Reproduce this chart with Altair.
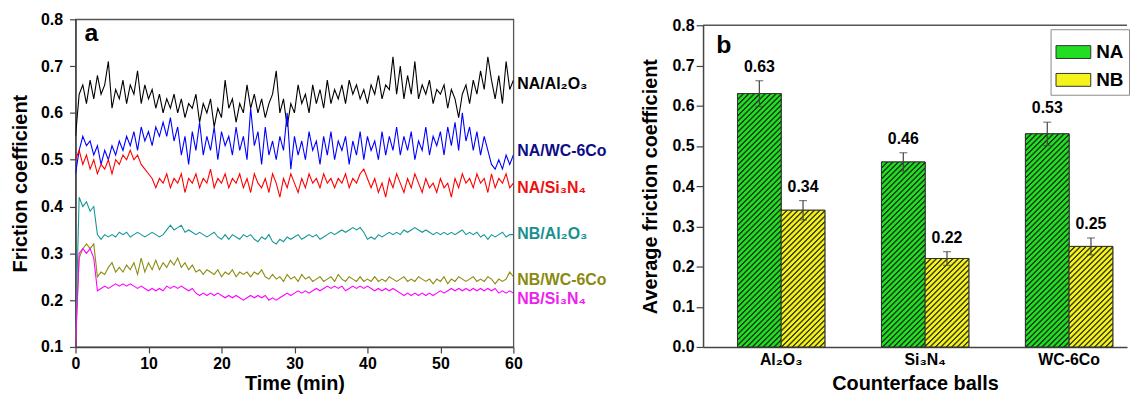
import altair as alt
import pandas as pd

# ---------------- Panel a data (friction coefficient vs time) ----------------
time_min = [i * 0.5 for i in range(121)]

na_al2o3 = [0.55,0.64,0.66,0.62,0.67,0.63,0.68,0.64,0.66,0.71,0.61,0.65,0.63,0.67,0.62,0.66,0.64,0.69,0.62,0.66,
            0.63,0.65,0.61,0.64,0.60,0.63,0.61,0.64,0.60,0.63,0.59,0.62,0.61,0.64,0.58,0.62,0.60,0.63,0.57,0.61,
            0.59,0.67,0.61,0.63,0.58,0.62,0.60,0.66,0.61,0.64,0.60,0.63,0.59,0.62,0.64,0.69,0.60,0.63,0.57,0.62,
            0.60,0.66,0.62,0.64,0.60,0.66,0.62,0.65,0.61,0.67,0.62,0.65,0.63,0.66,0.62,0.67,0.64,0.66,0.63,0.65,
            0.62,0.66,0.64,0.68,0.63,0.66,0.65,0.72,0.64,0.70,0.63,0.68,0.64,0.71,0.63,0.66,0.64,0.67,0.62,0.65,
            0.64,0.66,0.61,0.65,0.63,0.59,0.64,0.66,0.62,0.67,0.64,0.69,0.65,0.72,0.67,0.63,0.68,0.62,0.71,0.65,
            0.67]
na_wc6co = [0.47,0.52,0.55,0.53,0.54,0.51,0.53,0.49,0.52,0.50,0.53,0.51,0.54,0.52,0.55,0.53,0.56,0.52,0.57,0.54,
            0.56,0.53,0.57,0.55,0.58,0.55,0.59,0.54,0.57,0.51,0.55,0.49,0.56,0.52,0.58,0.51,0.55,0.52,0.57,0.50,
            0.56,0.53,0.55,0.51,0.57,0.52,0.55,0.50,0.61,0.53,0.56,0.49,0.57,0.51,0.54,0.50,0.55,0.52,0.60,0.48,
            0.55,0.51,0.54,0.50,0.56,0.52,0.54,0.49,0.55,0.51,0.56,0.50,0.54,0.52,0.55,0.49,0.54,0.51,0.56,0.50,
            0.55,0.52,0.54,0.50,0.56,0.51,0.55,0.52,0.57,0.51,0.55,0.52,0.56,0.50,0.54,0.52,0.57,0.51,0.55,0.53,
            0.56,0.51,0.57,0.53,0.58,0.52,0.60,0.54,0.57,0.52,0.56,0.51,0.55,0.52,0.49,0.48,0.50,0.48,0.51,0.49,
            0.51]
na_si3n4 = [0.50,0.52,0.49,0.51,0.48,0.50,0.47,0.49,0.48,0.50,0.47,0.50,0.49,0.51,0.50,0.52,0.50,0.51,0.49,0.48,
            0.47,0.46,0.44,0.46,0.45,0.47,0.44,0.46,0.45,0.47,0.43,0.46,0.45,0.47,0.44,0.46,0.45,0.48,0.44,0.46,
            0.45,0.47,0.44,0.46,0.45,0.47,0.44,0.46,0.43,0.47,0.45,0.44,0.46,0.43,0.47,0.45,0.42,0.46,0.44,0.47,
            0.45,0.43,0.46,0.44,0.47,0.45,0.46,0.44,0.47,0.45,0.46,0.44,0.46,0.45,0.47,0.44,0.46,0.45,0.47,0.48,
            0.46,0.44,0.46,0.43,0.45,0.42,0.46,0.44,0.47,0.45,0.43,0.46,0.44,0.47,0.45,0.43,0.46,0.44,0.45,0.43,
            0.46,0.44,0.45,0.42,0.46,0.44,0.47,0.45,0.46,0.44,0.47,0.45,0.46,0.43,0.47,0.44,0.46,0.45,0.47,0.44,
            0.45]
nb_al2o3 = [0.12,0.42,0.40,0.41,0.39,0.40,0.34,0.33,0.34,0.335,0.34,0.335,0.345,0.34,0.345,0.335,0.34,0.345,0.34,0.335,
            0.34,0.345,0.34,0.335,0.34,0.35,0.36,0.35,0.355,0.36,0.345,0.35,0.345,0.34,0.345,0.34,0.335,0.34,0.345,0.335,
            0.33,0.34,0.33,0.34,0.335,0.33,0.34,0.335,0.34,0.33,0.325,0.335,0.33,0.34,0.325,0.32,0.33,0.325,0.335,0.33,
            0.335,0.34,0.33,0.335,0.34,0.335,0.34,0.33,0.335,0.34,0.345,0.34,0.345,0.35,0.345,0.35,0.355,0.35,0.355,0.345,
            0.33,0.335,0.33,0.34,0.335,0.34,0.345,0.34,0.345,0.34,0.35,0.345,0.35,0.355,0.35,0.345,0.35,0.345,0.34,0.345,
            0.34,0.345,0.34,0.345,0.34,0.345,0.35,0.34,0.345,0.34,0.345,0.335,0.34,0.33,0.34,0.335,0.34,0.345,0.335,0.34,
            0.34]
nb_wc6co = [0.11,0.29,0.31,0.32,0.31,0.32,0.25,0.26,0.255,0.27,0.28,0.26,0.27,0.26,0.275,0.265,0.28,0.255,0.29,0.26,
            0.28,0.265,0.285,0.265,0.28,0.27,0.285,0.275,0.29,0.27,0.28,0.265,0.275,0.26,0.265,0.255,0.265,0.26,0.255,0.265,
            0.25,0.26,0.255,0.265,0.25,0.26,0.255,0.26,0.25,0.26,0.255,0.265,0.25,0.245,0.255,0.245,0.25,0.24,0.255,0.245,
            0.25,0.24,0.255,0.245,0.25,0.24,0.245,0.25,0.24,0.245,0.25,0.24,0.255,0.245,0.24,0.25,0.245,0.24,0.25,0.24,
            0.245,0.24,0.25,0.24,0.245,0.24,0.25,0.245,0.24,0.245,0.25,0.24,0.245,0.24,0.25,0.245,0.24,0.245,0.235,0.245,
            0.24,0.25,0.235,0.245,0.24,0.25,0.245,0.24,0.245,0.25,0.24,0.245,0.24,0.25,0.245,0.235,0.245,0.24,0.245,0.26,
            0.25]
nb_si3n4 = [0.10,0.30,0.31,0.30,0.31,0.29,0.22,0.225,0.23,0.225,0.23,0.235,0.23,0.235,0.23,0.235,0.23,0.225,0.23,0.225,
            0.22,0.225,0.22,0.225,0.22,0.23,0.225,0.23,0.225,0.23,0.225,0.22,0.225,0.215,0.21,0.215,0.21,0.215,0.21,0.215,
            0.21,0.205,0.21,0.205,0.21,0.205,0.20,0.205,0.21,0.205,0.21,0.205,0.21,0.20,0.205,0.20,0.205,0.21,0.215,0.21,
            0.215,0.22,0.215,0.22,0.215,0.22,0.225,0.22,0.225,0.23,0.225,0.23,0.225,0.23,0.22,0.225,0.23,0.225,0.23,0.225,
            0.23,0.225,0.22,0.225,0.22,0.225,0.22,0.225,0.22,0.215,0.21,0.215,0.21,0.215,0.21,0.215,0.21,0.215,0.21,0.215,
            0.22,0.215,0.22,0.225,0.22,0.225,0.22,0.225,0.22,0.225,0.22,0.225,0.22,0.225,0.22,0.225,0.215,0.22,0.215,0.22,
            0.215]

series_names = ["NA/Al2O3", "NA/WC-6Co", "NA/Si3N4", "NB/Al2O3", "NB/WC-6Co", "NB/Si3N4"]
series_values = [na_al2o3, na_wc6co, na_si3n4, nb_al2o3, nb_wc6co, nb_si3n4]
line_colors = ["#000000", "#0000ff", "#ff0000", "#169696", "#8c8c10", "#ff00ff"]

label_texts = ["NA/Al₂O₃", "NA/WC-6Co", "NA/Si₃N₄", "NB/Al₂O₃", "NB/WC-6Co", "NB/Si₃N₄"]
label_y = [0.661, 0.518, 0.439, 0.342, 0.242, 0.203]
label_colors = ["#000000", "#0c0c86", "#ee1111", "#1a9090", "#8a8a10", "#ee22ee"]

# ---------------- Panel b data (average friction coefficient) ----------------
balls = ["Al₂O₃", "Si₃N₄", "WC-6Co"]
groups = ["NA", "NB"]
na_mean = [0.63, 0.46, 0.53]
nb_mean = [0.34, 0.22, 0.25]
na_err = [0.032, 0.023, 0.029]
nb_err = [0.024, 0.017, 0.021]
bar_light = {"NA": "#22de22", "NB": "#f4f41c"}
bar_dark = {"NA": "#143c14", "NB": "#40400f"}

FONT = "Liberation Sans"

# ---------------- build tables ----------------
rows = []
for name, vals, col in zip(series_names, series_values, line_colors):
    for t, v in zip(time_min, vals):
        rows.append({"series": name, "t": t, "value": v, "color": col})
lines_df = pd.DataFrame(rows)
labels_df = pd.DataFrame({"lab": label_texts, "ly": label_y, "lc": label_colors, "t": [60] * 6})

brows = []
for i, b in enumerate(balls):
    for g, m, e in (("NA", na_mean[i], na_err[i]), ("NB", nb_mean[i], nb_err[i])):
        brows.append({"ball": b, "series": g, "mean": m, "lo": m - e, "hi": m + e, "k": f"{i}{g}"})
bars_df = pd.DataFrame(brows)

# ---------------- panel a ----------------
PA_W, PA_H = 441, 330
ya_ticks = [round(0.1 + 0.05 * i, 2) for i in range(15)]
xa_ticks = [5 * i for i in range(13)]
major_y = "abs(datum.value*10 - round(datum.value*10)) < 0.001"

ya_axis = alt.Axis(values=ya_ticks, labelExpr=f"{major_y} ? format(datum.value, '.1f') : ''",
                   tickSize={"condition": {"test": major_y, "value": 6}, "value": 3},
                   labelPadding=7, titlePadding=10, title="Friction coefficient")
xa_axis = alt.Axis(values=xa_ticks, labelExpr="datum.value % 10 === 0 ? datum.label : ''",
                   tickSize={"condition": {"test": "datum.value % 10 === 0", "value": 6}, "value": 3},
                   labelPadding=3, titlePadding=2, title="Time (min)")

xa = alt.X("t:Q", scale=alt.Scale(domain=[0, 60], nice=False), axis=xa_axis)
ya_scale = alt.Scale(domain=[0.1, 0.8], nice=False)

lines = alt.Chart(lines_df).mark_line(strokeWidth=1.1, clip=True).encode(
    x=xa,
    y=alt.Y("value:Q", scale=ya_scale, axis=ya_axis, title="Friction coefficient"),
    color=alt.Color("color:N", scale=None),
    detail="series:N",
    order=alt.Order("t:Q"),
)
labels = alt.Chart(labels_df).mark_text(align="left", baseline="middle", dx=4, fontSize=16,
                                         fontWeight="bold", font=FONT).encode(
    x=alt.X("t:Q"),
    y=alt.Y("ly:Q", title="Friction coefficient"),
    text="lab:N",
    color=alt.Color("lc:N", scale=None),
)
letter_a = alt.Chart(pd.DataFrame({"txt": ["a"]})).mark_text(
    fontSize=25, fontWeight="bold", font=FONT, align="center", baseline="alphabetic").encode(
    x=alt.value(16), y=alt.value(22), text="txt:N")

panel_a = alt.layer(lines, labels, letter_a).properties(width=PA_W, height=PA_H)

# ---------------- panel b ----------------
PB_W, PB_H = 427, 330
TOP_GAP = 6                      # panel b's 0.8 line sits a little lower than panel a's
PX_PER_UNIT = (PB_H - TOP_GAP) / 0.8
BAR_W = 44.0

yb_ticks = [round(0.05 * i, 2) for i in range(17)]
yb_axis = alt.Axis(values=yb_ticks, labelExpr=f"{major_y} ? format(datum.value, '.1f') : ''",
                   tickSize={"condition": {"test": major_y, "value": 7}, "value": 3},
                   labelPadding=2, titlePadding=12, title="Average friction coefficient")
yb_scale = alt.Scale(domain=[0, 0.8], nice=False, range=[PB_H, TOP_GAP])
xb = alt.X("ball:N", sort=balls,
           scale=alt.Scale(domain=balls, paddingInner=0.393, paddingOuter=0.169, align=0.708),
           axis=alt.Axis(ticks=False, labelAngle=0, labelPadding=5, titlePadding=6, title="Counterface balls"))
xob = alt.XOffset("series:N", sort=groups, scale=alt.Scale(domain=groups, paddingInner=0, paddingOuter=0))


def hatch(light, dark, w, h, period=5.5):
    """Diagonal (///) stripes as a many-stop linear gradient across the bar's box."""
    L = w + h
    s = L / (w * w + h * h)
    pattern = [(dark, 0.0), (dark, 0.18), (light, 0.38), (light, 0.82), (dark, 1.0)]
    stops = []
    k = 0
    while k * period < L:
        for col, f in pattern:
            o = min((k + f) * period / L, 1.0)
            stops.append((col, o))
        k += 1
    return alt.LinearGradient(gradient="linear",
                              stops=[alt.GradientStop(color=cc, offset=round(o, 5)) for cc, o in stops],
                              x1=0, y1=0, x2=round(w * s, 5), y2=round(h * s, 5))


base_b = alt.Chart(bars_df).encode(x=xb, xOffset=xob)

bars = base_b.mark_bar(stroke="#333333", strokeWidth=1).encode(
    y=alt.Y("mean:Q", scale=yb_scale, axis=yb_axis, title="Average friction coefficient"),
    color=alt.Color("series:N", scale=alt.Scale(domain=groups, range=[bar_light["NA"], bar_light["NB"]]),
                    legend=alt.Legend(title=None, orient="none", legendX=350, legendY=10,
                                      symbolType="M-1,-0.37H1V0.37H-1Z", symbolSize=1225,
                                      symbolStrokeColor="#333333", symbolStrokeWidth=1,
                                      labelFontSize=19, labelFontWeight="bold", labelFont=FONT,
                                      labelColor="black", labelOffset=5, rowPadding=0,
                                      padding=5, strokeColor="#8a8a8a", fillColor="white")),
)

hatch_layers = []
for r in brows:
    w = BAR_W
    h = r["mean"] * PX_PER_UNIT
    grad = hatch(bar_light[r["series"]], bar_dark[r["series"]], w, h)
    hatch_layers.append(
        base_b.transform_filter(alt.datum.k == r["k"]).mark_bar(fill=grad, stroke="#333333", strokeWidth=1).encode(
            y=alt.Y("mean:Q", title="Average friction coefficient"))
    )

err_rule = base_b.mark_rule(color="#444444", strokeWidth=1.2).encode(
    y=alt.Y("lo:Q", title="Average friction coefficient"), y2="hi:Q")
cap_hi = base_b.mark_tick(color="#444444", thickness=1.2, size=8, orient="horizontal").encode(
    y=alt.Y("hi:Q", title="Average friction coefficient"))
cap_lo = base_b.mark_tick(color="#444444", thickness=1.2, size=8, orient="horizontal").encode(
    y=alt.Y("lo:Q", title="Average friction coefficient"))
val_text = base_b.mark_text(fontSize=16, fontWeight="bold", font=FONT, baseline="middle", dy=-14).encode(
    y=alt.Y("hi:Q", title="Average friction coefficient"),
    text=alt.Text("mean:Q", format=".2f"))
letter_b = alt.Chart(pd.DataFrame({"txt": ["b"]})).mark_text(
    fontSize=25, fontWeight="bold", font=FONT, align="center", baseline="alphabetic").encode(
    x=alt.value(21), y=alt.value(28 + TOP_GAP), text="txt:N")
top_frame = alt.Chart(pd.DataFrame({"v": [0.8]})).mark_rule(color="#555555", strokeWidth=1.3).encode(
    y=alt.Y("v:Q", title="Average friction coefficient"), x=alt.value(0), x2=alt.value(PB_W))

panel_b = alt.layer(bars, *hatch_layers, err_rule, cap_hi, cap_lo, val_text, letter_b, top_frame).properties(
    width=PB_W, height=PB_H, view=alt.ViewBackground(stroke=None))

chart = alt.hconcat(panel_a, panel_b, spacing=32).resolve_scale(color="independent").resolve_legend(
    color="independent").properties(
    padding={"left": 2, "top": 1, "right": 0, "bottom": 0}
).configure(font=FONT).configure_axis(
    grid=False, labelFont=FONT, titleFont=FONT, labelFontSize=16, labelFontWeight="bold",
    titleFontSize=20, titleFontWeight="bold", labelColor="black", titleColor="black",
    domainColor="#444444", domainWidth=1.5, tickColor="#444444", tickWidth=1.2,
    labelFlush=False, labelOverlap=False,
).configure_view(stroke="#555555", strokeWidth=1.3)

chart.save("out.html", embed_options={"renderer": "svg", "actions": False})
